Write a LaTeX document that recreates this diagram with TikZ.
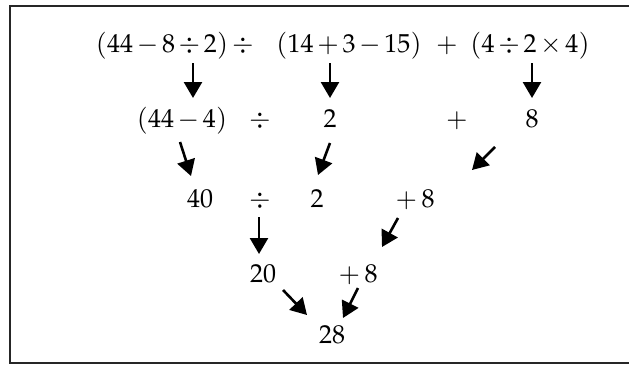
\documentclass[tikz,border=0pt]{standalone}
\usepackage{mathpazo}
\usetikzlibrary{arrows.meta}
\medmuskip=2.5mu

\begin{document}
\begin{tikzpicture}[x=1pt,y=-1pt,font=\fontsize{26}{30}\selectfont,
  term/.style={anchor=base,inner sep=0pt},
  down/.style={line width=2.6pt,-{Triangle[length=16pt,width=18pt]}}]
  \useasboundingbox (0,0) rectangle (629,365);

  % frame (right side falls outside the picture)
  \draw[line width=1.8pt,black!85] (631,6) -- (10,6) -- (10,363) -- (631,363);

  % ================= row 1 =================
  \node[term] (p1) at (162,52) {$(44-8\div2)$};
  \node[term] (o1) at (243,52) {$\div$};
  \node[term] (p2) at (349,52) {$(14+3-15)$};
  \node[term] (o2) at (447,52) {$+$};
  \node[term] (p3) at (530,52) {$(4\div2\times4)$};

  % ================= row 2 =================
  \node[term] (q1) at (182,127) {$(44-4)$};
  \node[term] (q2) at (260,127) {$\div$};
  \node[term] (q3) at (330,127) {$2$};
  \node[term] (q4) at (457,127) {$+$};
  \node[term] (q5) at (532,127) {$8$};

  % ================= row 3 =================
  \node[term] (r1) at (200,207) {$40$};
  \node[term] (r2) at (260,207) {$\div$};
  \node[term] (r3) at (317,207) {$2$};
  \node[term] (r4) at (415,207) {$+\,8$};

  % ================= row 4 / result =================
  \node[term] (s1) at (263,282) {$20$};
  \node[term] (s2) at (358,282) {$+\,8$};
  \node[term] (t)  at (332,343) {$28$};

  % arrow ends
  \coordinate (a1) at (193,63);  \coordinate (a1e) at (193,98);
  \coordinate (a2) at (330,63);  \coordinate (a2e) at (330,98);
  \coordinate (a3) at (532,63);  \coordinate (a3e) at (532,98);
  \coordinate (b1) at (180,142); \coordinate (b1e) at (191,176);
  \coordinate (b2) at (330,143); \coordinate (b2e) at (318,175);
  \coordinate (b3) at (495,147); \coordinate (b3e) at (472,170);
  \coordinate (c1) at (259,217); \coordinate (c1e) at (259,254);
  \coordinate (c2) at (398,218); \coordinate (c2e) at (382,247);
  \coordinate (d1) at (283,290); \coordinate (d1e) at (307,315);
  \coordinate (d2) at (358,288); \coordinate (d2e) at (343,318);

  % arrows
  \foreach \a in {a1,a2,a3,b1,b2,b3,c1,c2,d1,d2}
    \draw[down] (\a) -- (\a e);
\end{tikzpicture}
\end{document}
